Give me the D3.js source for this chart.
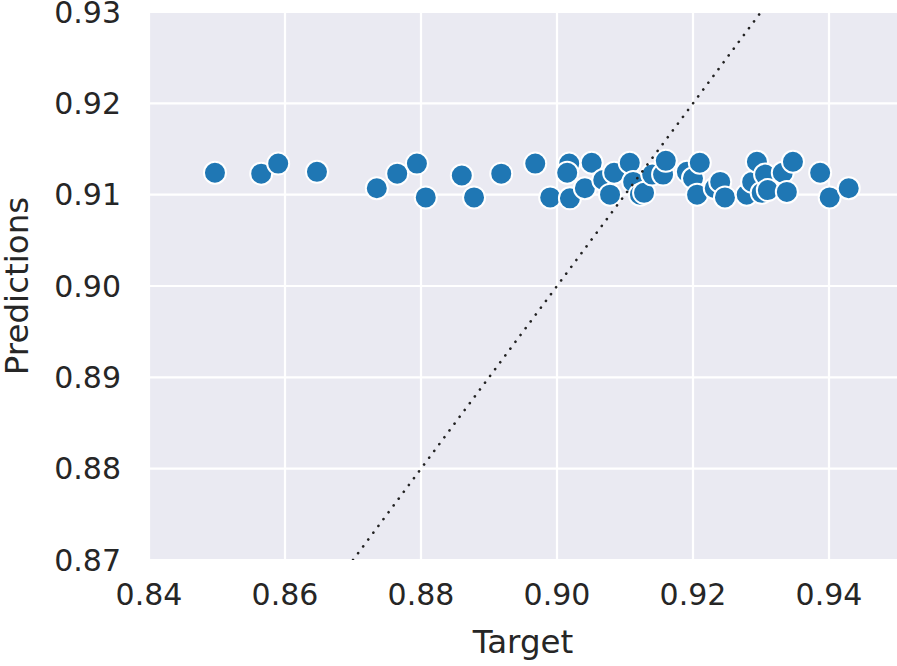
<!DOCTYPE html>
<html>
<head>
<meta charset="utf-8">
<script src="https://cdn.jsdelivr.net/npm/d3@7"></script>
<style>
  body { margin: 0; background: #fff; }
  text { font-family: "DejaVu Sans", sans-serif; fill: #262626; }
</style>
</head>
<body>
<div id="chart"></div>
<script>
// values
let targets = [0.8497, 0.8565, 0.8590, 0.8647, 0.8735, 0.8765, 0.8794, 0.8807, 0.8860, 0.8878,
    0.8918, 0.8968, 0.8990, 0.9018, 0.9015, 0.9019, 0.9051, 0.9041, 0.9068, 0.9078,
    0.9084, 0.9107, 0.9112, 0.9122, 0.9128, 0.9140, 0.9156, 0.9160, 0.9191, 0.9200,
    0.9210, 0.9206, 0.9232, 0.9240, 0.9247, 0.9279, 0.9287, 0.9294, 0.9301, 0.9306,
    0.9310, 0.9332, 0.9338, 0.9347, 0.9387, 0.9401, 0.9429];
let predictions = [0.9124, 0.9123, 0.9134, 0.9125, 0.9107, 0.9123, 0.9134, 0.9097, 0.9121, 0.9097,
    0.9123, 0.9134, 0.9097, 0.9134, 0.9124, 0.9096, 0.9135, 0.9107, 0.9116, 0.9100,
    0.9124, 0.9135, 0.9114, 0.9100, 0.9102, 0.9122, 0.9122, 0.9137, 0.9125, 0.9118,
    0.9135, 0.9100, 0.9107, 0.9114, 0.9097, 0.9100, 0.9114, 0.9136, 0.9102, 0.9122,
    0.9105, 0.9124, 0.9103, 0.9136, 0.9124, 0.9097, 0.9107];
let xTicks = [0.84, 0.86, 0.88, 0.90, 0.92, 0.94];
let yTicks = [0.87, 0.88, 0.89, 0.90, 0.91, 0.92, 0.93];
let identity = [0.87, 0.93];

let margin = {top: 12, right: 0, left: 149, bottom: 106};
let width = 897 - margin.left - margin.right;
let height = 666 - margin.top - margin.bottom;

let svg = d3.select("#chart")
    .append("svg")
    .attr("width", 897)
    .attr("height", 666);

let g = svg.append("g")
    .attr("transform", "translate(" + margin.left + ", " + margin.top + ")");

let x = d3.scaleLinear().domain([0.84, 0.95]).range([0, width]);
let y = d3.scaleLinear().domain([0.87, 0.93]).range([height, 0]);

g.append("rect")
    .attr("width", width)
    .attr("height", height)
    .attr("fill", "#eaeaf2");

g.append("clipPath").attr("id", "clip")
    .append("rect").attr("width", width).attr("height", height);

// grid
g.selectAll(".vgrid").data(xTicks).enter().append("line")
    .attr("x1", d => x(d)).attr("x2", d => x(d))
    .attr("y1", 0).attr("y2", height)
    .attr("stroke", "#fff").attr("stroke-width", 2.2);
g.selectAll(".hgrid").data(yTicks).enter().append("line")
    .attr("y1", d => y(d)).attr("y2", d => y(d))
    .attr("x1", 0).attr("x2", width)
    .attr("stroke", "#fff").attr("stroke-width", 2.2);

let points = targets.map((t, i) => ({t: t, p: predictions[i]}));

g.append("g").attr("clip-path", "url(#clip)")
    .selectAll("circle")
    .data(points)
    .enter()
    .append("circle")
    .attr("cx", d => x(d.t))
    .attr("cy", d => y(d.p))
    .attr("r", 11)
    .attr("fill", "#1f77b4")
    .attr("stroke", "#fff")
    .attr("stroke-width", 2);

// y = x reference line
g.append("path")
    .datum(identity)
    .attr("clip-path", "url(#clip)")
    .attr("d", d3.line().x(d => x(d)).y(d => y(d)))
    .attr("fill", "none")
    .attr("stroke", "#222")
    .attr("stroke-width", 2.6)
    .attr("stroke-linecap", "round")
    .attr("stroke-dasharray", "0.1,8.4");

// tick labels
g.selectAll(".xlab").data(xTicks).enter().append("text")
    .attr("x", d => x(d))
    .attr("y", height + 45)
    .attr("text-anchor", "middle")
    .style("font-size", "30px")
    .text(d => d3.format(".2f")(d));

g.selectAll(".ylab").data(yTicks).enter().append("text")
    .attr("x", -28)
    .attr("y", d => y(d))
    .attr("dy", "0.36em")
    .attr("text-anchor", "end")
    .style("font-size", "30px")
    .text(d => d3.format(".2f")(d));

g.append("text")
    .attr("x", width / 2)
    .attr("y", height + 93)
    .attr("text-anchor", "middle")
    .style("font-size", "32.5px")
    .text("Target");

g.append("text")
    .attr("transform", "translate(" + (28 - margin.left) + "," + (height / 2) + ") rotate(-90)")
    .attr("text-anchor", "middle")
    .style("font-size", "32.5px")
    .text("Predictions");
</script>
</body>
</html>
